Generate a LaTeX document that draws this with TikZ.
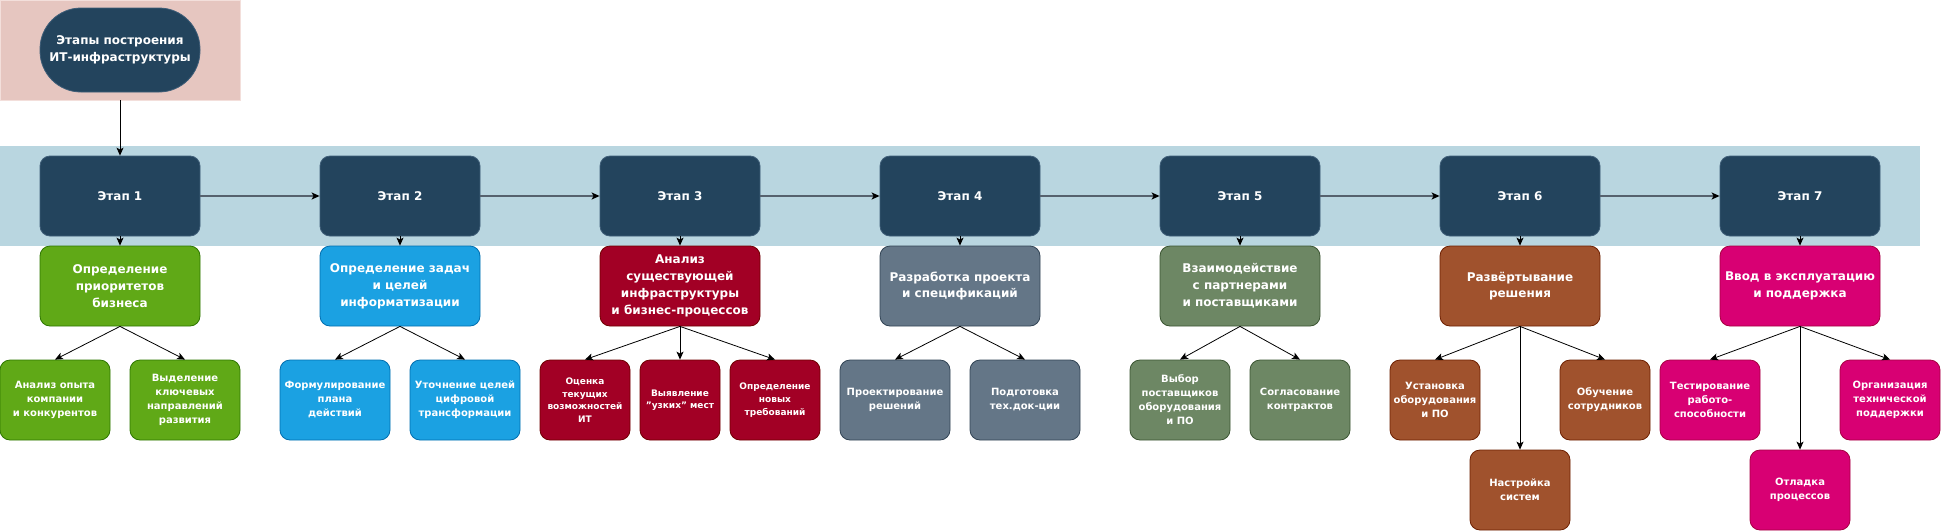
\documentclass[tikz,border=0pt]{standalone}
\usepackage{fontspec}
\setmainfont{DejaVu Sans}
\usetikzlibrary{arrows.meta}
\definecolor{navy}{HTML}{23445D}
\definecolor{navyln}{HTML}{3F5E78}
\definecolor{bandc}{HTML}{B9D6E0}
\definecolor{pinkc}{HTML}{E6C6C0}
\definecolor{pinkln}{HTML}{F3DFDB}
\definecolor{flowc}{HTML}{56626E}
\definecolor{grF}{HTML}{60A917}\definecolor{grD}{HTML}{2D7600}
\definecolor{blF}{HTML}{1BA1E2}\definecolor{blD}{HTML}{006EAF}
\definecolor{rdF}{HTML}{A20025}\definecolor{rdD}{HTML}{6F0000}
\definecolor{slF}{HTML}{647687}\definecolor{slD}{HTML}{314354}
\definecolor{olF}{HTML}{6D8764}\definecolor{olD}{HTML}{3A5431}
\definecolor{brF}{HTML}{A0522D}\definecolor{brD}{HTML}{6D1F00}
\definecolor{mgF}{HTML}{D80073}\definecolor{mgD}{HTML}{A50040}
\newcommand\szL{\fontsize{12}{16.8}\selectfont}
\newcommand\szM{\fontsize{10}{14}\selectfont}
\newcommand\szS{\fontsize{9}{12.6}\selectfont}

\begin{document}
\begin{tikzpicture}[x = 1pt, y = -1pt,
    blk/.style = {rectangle, rounded corners=10pt, line width=0.8pt, inner sep=0pt, align=center, text=white, minimum height=80pt},
    etap/.style = {blk, fill=navy, draw=navyln, minimum width=160pt, font=\bfseries\szL},
    goal/.style = {blk, minimum width=160pt, font=\bfseries\szL},
    task/.style = {blk, minimum width=#1, font=\bfseries\szM},
    task/.default = 110pt,
    small/.style = {font=\bfseries\szS},
    gr/.style = {fill=grF, draw=grD}, bl/.style = {fill=blF, draw=blD},
    rd/.style = {fill=rdF, draw=rdD}, sl/.style = {fill=slF, draw=slD},
    ol/.style = {fill=olF, draw=olD}, br/.style = {fill=brF, draw=brD},
    mg/.style = {fill=mgF, draw=mgD},
    flow/.style = {draw=flowc, line width=1.3pt, -{Stealth[length=8pt, width=7pt, inset=2pt, color=black]}},
    arr/.style = {draw=black, line width=0.8pt, -{Stealth[length=8pt, width=7pt, inset=2pt]}}]
    \useasboundingbox (0,0) rectangle (1941,531);
    \node[rectangle, fill=pinkc, draw=pinkln, line width=0.8pt, minimum width=240pt, minimum height=100pt] (frame) at (120,50) {};
    \node[blk, fill=navy, draw=navyln, rounded corners=41pt, minimum width=160pt, minimum height=84pt, font=\bfseries\szL] (title) at (120,50) {Этапы построения\\ИТ-инфраструктуры};
    \node[rectangle, fill=bandc, minimum width=1920pt, minimum height=100pt, inner sep=0pt] (band) at (960,196) {};
    \foreach \i in {1,...,7}
        \node[etap] (e\i) at ({120+280*(\i-1)},196) {Этап \i};

    \node[goal, gr] (p1) at (120,286) {Определение\\приоритетов\\бизнеса};
    \node[goal, bl] (p2) at (400,286) {Определение задач\\и целей\\информатизации};
    \node[goal, rd] (p3) at (680,286) {Анализ\\существующей\\инфраструктуры\\и бизнес-процессов};
    \node[goal, sl] (p4) at (960,286) {Разработка проекта\\и спецификаций};
    \node[goal, ol] (p5) at (1240,286) {Взаимодействие\\с партнерами\\и поставщиками};
    \node[goal, br] (p6) at (1520,286) {Развёртывание\\решения};
    \node[goal, mg] (p7) at (1800,286) {Ввод в эксплуатацию\\и поддержка};

    \node[task, gr] (s1a) at (55,400) {Анализ опыта\\компании\\и конкурентов};
    \node[task, gr] (s1b) at (185,400) {Выделение\\ключевых\\направлений\\развития};
    \node[task, bl] (s2a) at (335,400) {Формулирование\\плана\\действий};
    \node[task, bl] (s2b) at (465,400) {Уточнение целей\\цифровой\\трансформации};
    \node[task=90pt, rd, small] (s3a) at (585,400) {Оценка\\текущих\\возможностей\\ИТ};
    \node[task=80pt, rd, small] (s3b) at (680,400) {Выявление\\"узких" мест};
    \node[task=90pt, rd, small] (s3c) at (775,400) {Определение\\новых\\требований};
    \node[task, sl] (s4a) at (895,400) {Проектирование\\решений};
    \node[task, sl] (s4b) at (1025,400) {Подготовка\\тех.док-ции};
    \node[task=100pt, ol] (s5a) at (1180,400) {Выбор\\поставщиков\\оборудования\\и ПО};
    \node[task=100pt, ol] (s5b) at (1300,400) {Согласование\\контрактов};
    \node[task=90pt, br] (s6a) at (1435,400) {Установка\\оборудования\\и ПО};
    \node[task=100pt, br] (s6b) at (1520,490) {Настройка\\систем};
    \node[task=90pt, br] (s6c) at (1605,400) {Обучение\\сотрудников};
    \node[task=100pt, mg] (s7a) at (1710,400) {Тестирование\\работо-\\способности};
    \node[task=100pt, mg] (s7b) at (1800,490) {Отладка\\процессов};
    \node[task=100pt, mg] (s7c) at (1890,400) {Организация\\технической\\поддержки};

    \draw[arr] (frame.south) -- (e1.north);
    \foreach \i/\j in {1/2, 2/3, 3/4, 4/5, 5/6, 6/7}
        \draw[flow] (e\i.east) -- (e\j.west);
    \foreach \i in {1,...,7}
        \draw[arr] (e\i.south) -- (p\i.north);
    \foreach \i/\k in {1/s1a, 1/s1b, 2/s2a, 2/s2b, 3/s3a, 3/s3b, 3/s3c, 4/s4a, 4/s4b, 5/s5a, 5/s5b, 6/s6a, 6/s6b, 6/s6c, 7/s7a, 7/s7b, 7/s7c}
        \draw[arr] (p\i.south) -- (\k.north);
\end{tikzpicture}
\end{document}
